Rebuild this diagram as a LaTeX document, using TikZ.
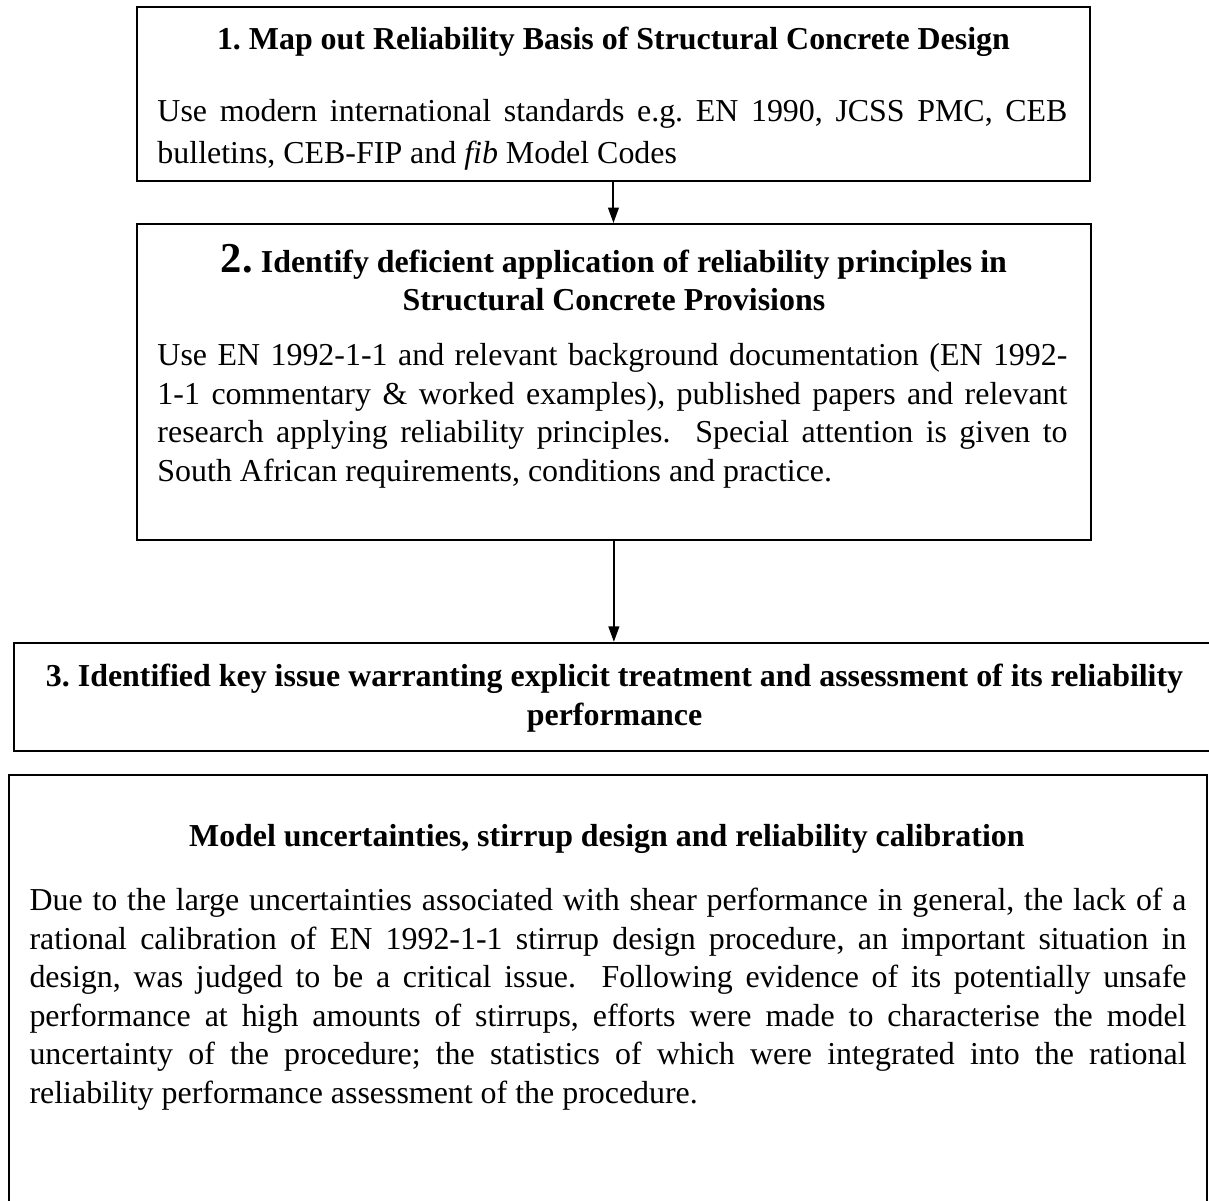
\documentclass[tikz,border=0pt]{standalone}
\usepackage{fontspec}
\setmainfont{Liberation Serif}
\usetikzlibrary{arrows.meta, positioning}

\begin{document}
\frenchspacing
\begin{tikzpicture}[x=1pt, y=1pt,
  every node/.style={inner sep=0pt, font=\fontsize{11.4}{13.8}\selectfont},
  box/.style={draw, line width=0.7pt},
  head/.style={font=\fontsize{11.4}{13.9}\selectfont\bfseries, align=flush center, anchor=base},
  body/.style={align=justify, anchor=base west},
  flow/.style={-{Triangle[length=5.5pt, width=3.8pt]}, line width=0.7pt}]
\useasboundingbox (0,0) rectangle (431.8,-428.9);
% the four boxes
\node [box, minimum width=340.4pt, minimum height=62.1pt]  (map)   at (219.1,-33.55) {};
\node [box, minimum width=340.7pt, minimum height=112.9pt] (ident) at (219.25,-136.45) {};
\node [box, minimum width=429pt,   minimum height=38.6pt]  (issue) at (219.5,-248.9) {};
\node [box, minimum width=427.9pt, minimum height=170pt]   (model) at (217.15,-361.8) {};
% box 1
\node [head, text width=330pt] (maphead) at ([yshift=-15.4pt]map.north)
  {1. Map out Reliability Basis of Structural Concrete Design};
\node [body, text width=325pt, font=\fontsize{11.4}{15.1}\selectfont] (maptext)
  at ([xshift=7.5pt, yshift=-41.2pt]map.north west)
  {Use modern international standards e.g.\ EN 1990, JCSS PMC, CEB\linebreak
   bulletins, CEB-FIP and \textit{fib} Model Codes};
% box 2
\node [head, text width=330pt] (identhead) at ([yshift=-17.5pt]ident.north)
  {{\fontsize{15.2}{13.9}\selectfont 2.} Identify deficient application of reliability principles in\\
   Structural Concrete Provisions};
\node [body, text width=325pt, font=\fontsize{11.4}{13.75}\selectfont] (identtext)
  at ([xshift=7.5pt, yshift=-51pt]ident.north west)
  {Use EN 1992-1-1 and relevant background documentation (EN 1992-\linebreak
   1-1 commentary \& worked examples), published papers and relevant\linebreak
   research applying reliability principles.\ \ Special attention is given to\linebreak
   South African requirements, conditions and practice.};
% box 3
\node [head, text width=420pt] (issuehead) at ([yshift=-16.1pt]issue.north)
  {3. Identified key issue warranting explicit treatment and assessment of its reliability\\
   performance};
% box 4
\node [head, text width=413pt] (modelhead) at ([xshift=-0.4pt, yshift=-25.7pt]model.north)
  {Model uncertainties, stirrup design and reliability calibration};
\node [body, text width=413.2pt, font=\fontsize{11.4}{13.75}\selectfont] (modeltext)
  at ([xshift=7.5pt, yshift=-48.8pt]model.north west)
  {Due to the large uncertainties associated with shear performance in general, the lack of a\linebreak
   rational calibration of EN 1992-1-1 stirrup design procedure, an important situation in\linebreak
   design, was judged to be a critical issue.\ \ Following evidence of its potentially unsafe\linebreak
   performance at high amounts of stirrups, efforts were made to characterise the model\linebreak
   uncertainty of the procedure; the statistics of which were integrated into the rational\linebreak
   reliability performance assessment of the procedure.};
% arrows
\draw [flow] (map.south) -- (map.south |- ident.north);
\draw [flow] (ident.south) -- (issue.north -| ident.south);
\end{tikzpicture}
\end{document}
